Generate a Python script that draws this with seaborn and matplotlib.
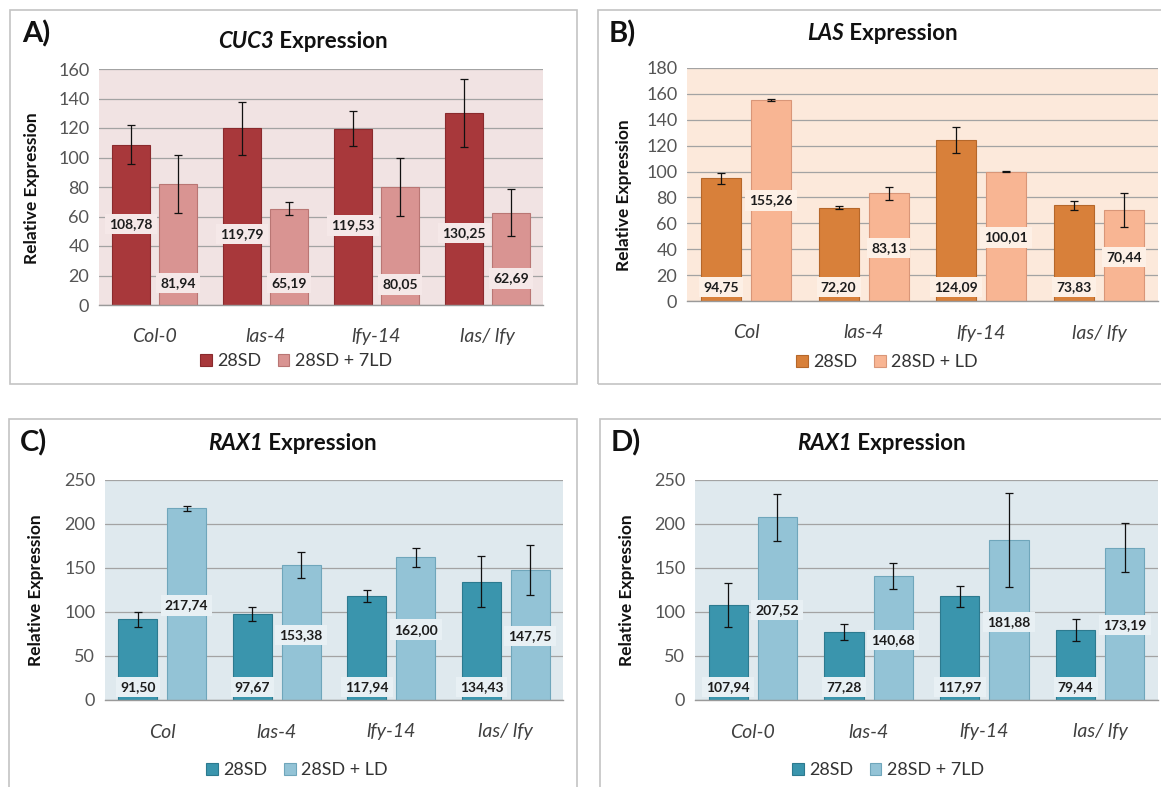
import numpy as np
import pandas as pd
import seaborn as sns
import matplotlib.pyplot as plt
from matplotlib.patches import Rectangle, Patch

# ---------------- data ----------------
genotypes_A = ["Col-0", "las-4", "lfy-14", "las/ lfy"]
genotypes_B = ["Col", "las-4", "lfy-14", "las/ lfy"]
genotypes_C = ["Col", "las-4", "lfy-14", "las/ lfy"]
genotypes_D = ["Col-0", "las-4", "lfy-14", "las/ lfy"]

cond_A = ["28SD", "28SD + 7LD"]
cond_B = ["28SD", "28SD + LD"]
cond_C = ["28SD", "28SD + LD"]
cond_D = ["28SD", "28SD + 7LD"]

cuc3_sd = [108.78, 119.79, 119.53, 130.25]
cuc3_ld = [81.94, 65.19, 80.05, 62.69]
cuc3_sd_err = [13.5, 18.0, 12.0, 23.0]
cuc3_ld_err = [19.5, 4.5, 19.5, 16.0]

las_sd = [94.75, 72.20, 124.09, 73.83]
las_ld = [155.26, 83.13, 100.01, 70.44]
las_sd_err = [4.5, 1.5, 10.0, 3.8]
las_ld_err = [1.0, 5.0, 0.3, 13.2]

raxc_sd = [91.50, 97.67, 117.94, 134.43]
raxc_ld = [217.74, 153.38, 162.00, 147.75]
raxc_sd_err = [8.5, 8.0, 6.5, 29.0]
raxc_ld_err = [2.5, 15.0, 11.0, 28.0]

raxd_sd = [107.94, 77.28, 117.97, 79.44]
raxd_ld = [207.52, 140.68, 181.88, 173.19]
raxd_sd_err = [25.5, 9.5, 12.0, 12.5]
raxd_ld_err = [27.0, 15.0, 53.5, 28.0]

# ---------------- layout / style ----------------
W, H = 1161, 787
FONT = ["Lato", "DejaVu Sans"]

panels = [
    dict(letter="A)", gene="CUC3", geno=genotypes_A, cond=cond_A,
         sd=cuc3_sd, ld=cuc3_ld, sde=cuc3_sd_err, lde=cuc3_ld_err,
         ymax=160, ystep=20,
         ax_px=(99, 69, 543, 305), box_px=(10, 10, 577, 384),
         letter_px=(22, 34), title_px=(303, 42), ylab_px=(32, 188),
         tick_y=337, leg_px=(296, 361),
         lab_sd=[55, 48, 54, 49], lab_ld=[15, 15, 14, 18],
         c_sd="#a8383b", c_ld="#d99492", e_sd="#8a2a2d", e_ld="#b97674",
         bg="#f1e3e3", lab_bg="#f5e8e8"),
    dict(letter="B)", gene="LAS", geno=genotypes_B, cond=cond_B,
         sd=las_sd, ld=las_ld, sde=las_sd_err, lde=las_ld_err,
         ymax=180, ystep=20,
         ax_px=(687, 68, 1158, 301), box_px=(598, 10, 1175, 384),
         letter_px=(609, 34), title_px=(882, 34), ylab_px=(624, 195),
         tick_y=333, leg_px=(887, 362),
         lab_sd=[11, 11, 11, 11], lab_ld=[77.7, 41, 49, 34],
         c_sd="#d8803a", c_ld="#f8b593", e_sd="#b5672a", e_ld="#d99678",
         bg="#fce9db", lab_bg="#fdf0e6"),
    dict(letter="C)", gene="RAX1", geno=genotypes_C, cond=cond_C,
         sd=raxc_sd, ld=raxc_ld, sde=raxc_sd_err, lde=raxc_ld_err,
         ymax=250, ystep=50,
         ax_px=(105, 480, 563, 700), box_px=(9, 419, 577, 800),
         letter_px=(20, 443), title_px=(292, 443), ylab_px=(36, 590),
         tick_y=732, leg_px=(297, 770),
         lab_sd=[15, 15, 15, 15], lab_ld=[107.5, 74, 80, 72.6],
         c_sd="#3a95ad", c_ld="#93c3d6", e_sd="#2c7a8f", e_ld="#6fa6bb",
         bg="#dfe9ee", lab_bg="#e8f0f4"),
    dict(letter="D)", gene="RAX1", geno=genotypes_D, cond=cond_D,
         sd=raxd_sd, ld=raxd_ld, sde=raxd_sd_err, lde=raxd_ld_err,
         ymax=250, ystep=50,
         ax_px=(695, 480, 1158, 700), box_px=(600, 419, 1175, 800),
         letter_px=(611, 443), title_px=(881, 443), ylab_px=(627, 590),
         tick_y=732, leg_px=(888, 770),
         lab_sd=[15, 15, 15, 15], lab_ld=[102.6, 68.4, 89, 85.5],
         c_sd="#3a95ad", c_ld="#93c3d6", e_sd="#2c7a8f", e_ld="#6fa6bb",
         bg="#dfe9ee", lab_bg="#e8f0f4"),
]

sns.set_theme(style="white")
plt.rcParams["font.family"] = FONT

fig = plt.figure(figsize=(W / 100, H / 100), dpi=100)
fig.patch.set_facecolor("white")


def fxy(px, py):
    return px / W, 1 - py / H


def fmt(v):
    return f"{v:.2f}".replace(".", ",")


title_pairs = []

for p in panels:
    x0, y0, x1, y1 = p["ax_px"]
    ax = fig.add_axes([x0 / W, 1 - y1 / H, (x1 - x0) / W, (y1 - y0) / H])

    # panel frame
    bx0, by0, bx1, by1 = p["box_px"]
    fig.patches.append(Rectangle(fxy(bx0, by1), (bx1 - bx0) / W, (by1 - by0) / H,
                                 transform=fig.transFigure, fill=False,
                                 edgecolor="#c4c4c4", lw=1.2, zorder=0))

    df = pd.DataFrame({
        "genotype": p["geno"] * 2,
        "condition": [p["cond"][0]] * 4 + [p["cond"][1]] * 4,
        "value": list(p["sd"]) + list(p["ld"]),
    })
    sns.barplot(data=df, x="genotype", y="value", hue="condition",
                order=p["geno"], hue_order=p["cond"],
                palette=[p["c_sd"], p["c_ld"]], width=0.85, gap=0.2,
                errorbar=None, legend=False, ax=ax, zorder=2, saturation=1)

    ax.set_facecolor(p["bg"])
    ax.set_xlim(-0.5, 3.5)
    ax.set_ylim(0, p["ymax"])
    ax.set_yticks(np.arange(0, p["ymax"] + 1, p["ystep"]))
    ax.yaxis.grid(True, color="#a3a3a3", lw=0.9, zorder=0)
    ax.set_axisbelow(True)
    for s in ["top", "right", "left"]:
        ax.spines[s].set_visible(False)
    ax.spines["bottom"].set_color("#9a9a9a")
    ax.spines["bottom"].set_linewidth(1.0)
    ax.tick_params(axis="both", length=0)
    ax.tick_params(axis="y", labelsize=13, labelcolor="#555555", pad=7)
    ax.set_xlabel("")
    ax.set_ylabel("")

    # x tick labels placed at reference height
    ax.set_xticks(range(4))
    ax.set_xticklabels([])
    for i, g in enumerate(p["geno"]):
        xd = ax.transData.transform((i, 0))[0]
        fig.text(xd / W, 1 - p["tick_y"] / H, g, ha="center", va="center",
                 fontsize=14, style="italic", color="#404040")

    errs = [p["sde"], p["lde"]]
    edges = [p["e_sd"], p["e_ld"]]
    labs = [p["lab_sd"], p["lab_ld"]]
    bar_conts = list(ax.containers)
    for k, cont in enumerate(bar_conts):
        for j, bar in enumerate(cont.patches):
            bar.set_edgecolor(edges[k])
            bar.set_linewidth(0.8)
            xc = bar.get_x() + bar.get_width() / 2
            h = bar.get_height()
            ax.errorbar(xc, h, yerr=errs[k][j], color="#111111", lw=0.9,
                        capsize=2.8, capthick=0.9, zorder=4)
            ax.text(xc, labs[k][j], fmt(h), ha="center", va="center",
                    fontsize=10, fontweight="bold", color="#1c1c1c", zorder=5,
                    bbox=dict(boxstyle="square,pad=0.3", fc=p["lab_bg"],
                              ec="none"))

    # y label
    fig.text(p["ylab_px"][0] / W, 1 - p["ylab_px"][1] / H, "Relative Expression",
             rotation=90, ha="center", va="center", fontsize=12.5,
             fontweight="bold", color="#111111")

    # panel letter
    fig.text(p["letter_px"][0] / W, 1 - p["letter_px"][1] / H, p["letter"],
             ha="left", va="center", fontsize=21, fontweight="bold",
             color="#111111")

    # title (two parts)
    t1 = fig.text(0, 1 - p["title_px"][1] / H, p["gene"], ha="left", va="center",
                  fontsize=16, fontweight="bold", style="italic", color="#111111")
    t2 = fig.text(0, 1 - p["title_px"][1] / H, " Expression", ha="left",
                  va="center", fontsize=16, fontweight="bold", color="#111111")
    title_pairs.append((t1, t2, p["title_px"][0]))

    # legend
    handles = [Patch(facecolor=p["c_sd"], edgecolor=p["e_sd"], lw=0.8),
               Patch(facecolor=p["c_ld"], edgecolor=p["e_ld"], lw=0.8)]
    fig.legend(handles, p["cond"], loc="center",
               bbox_to_anchor=fxy(*p["leg_px"]), ncol=2, frameon=False,
               fontsize=13, handlelength=0.65, handleheight=0.65,
               handletextpad=0.3, columnspacing=0.9, labelcolor="#333333")

fig.canvas.draw()
r = fig.canvas.get_renderer()
for t1, t2, cx in title_pairs:
    w1 = t1.get_window_extent(r).width
    w2 = t2.get_window_extent(r).width
    start = cx - (w1 + w2) / 2
    t1.set_x(start / W)
    t2.set_x((start + w1) / W)

fig.savefig("out.png", dpi=100, facecolor="white")
